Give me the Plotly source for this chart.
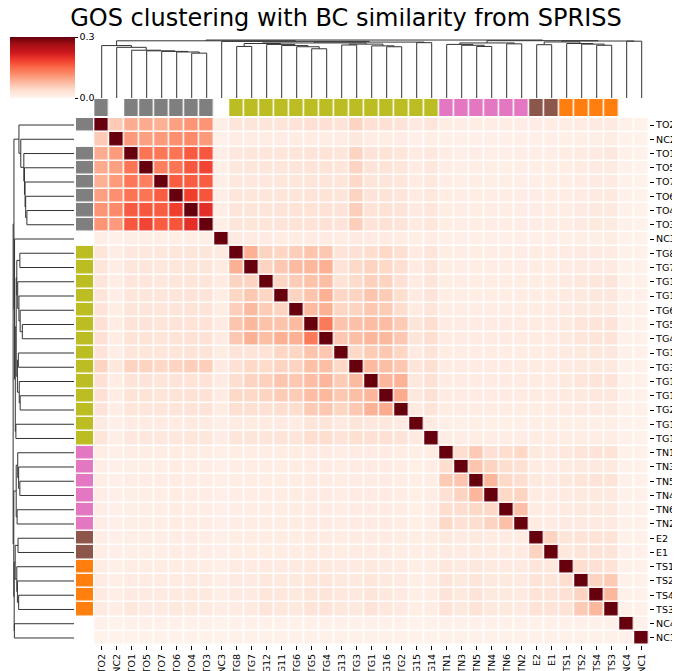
import numpy as np
import plotly.graph_objects as go

# ── Data ───────────────────────────────────────────────────────────────────

samples = ["TO2", "NC2", "TO1", "TO5", "TO7", "TO6", "TO4", "TO3", "NC3",
           "TG8", "TG7", "TG12", "TG11", "TG6", "TG5", "TG4", "TG13", "TG3",
           "TG1", "TG16", "TG2", "TG15", "TG14",
           "TN1", "TN3", "TN5", "TN4", "TN6", "TN2",
           "E2", "E1", "TS1", "TS2", "TS4", "TS3", "NC4", "NC1"]

groups = ["TO", "NC", "TO", "TO", "TO", "TO", "TO", "TO", "NC",
          "TG", "TG", "TG", "TG", "TG", "TG", "TG", "TG", "TG",
          "TG", "TG", "TG", "TG", "TG",
          "TN", "TN", "TN", "TN", "TN", "TN",
          "E", "E", "TS", "TS", "TS", "TS", "NC", "NC"]

group_colors = {"TO": "#7f7f7f", "TG": "#bcbd22", "TN": "#e377c2",
                "E": "#8c564b", "TS": "#ff7f0e"}

# BC similarity (x1000), lower triangle in clustered order; diagonal = 1000
sim_lower = [
    [],
    [60],
    [88, 105],
    [90, 100, 140],
    [85, 105, 138, 130],
    [100, 115, 140, 140, 160],
    [110, 120, 163, 165, 160, 185],
    [110, 105, 165, 180, 160, 167, 200],
    [12, 8, 12, 12, 12, 12, 13, 13],
    [28, 14, 25, 25, 24, 26, 28, 28, 20],
    [28, 14, 26, 26, 25, 27, 29, 29, 18, 85],
    [28, 15, 26, 26, 25, 27, 29, 29, 17, 50, 50],
    [28, 14, 27, 27, 26, 28, 30, 30, 16, 48, 62, 48],
    [30, 15, 28, 28, 27, 29, 31, 31, 16, 55, 75, 58, 50],
    [35, 16, 30, 30, 28, 30, 33, 33, 17, 65, 78, 68, 66, 75],
    [35, 16, 31, 31, 29, 31, 34, 34, 17, 62, 85, 72, 85, 85, 135],
    [30, 14, 27, 27, 26, 28, 30, 30, 16, 30, 30, 32, 48, 48, 66, 63],
    [50, 25, 50, 50, 45, 50, 55, 55, 20, 35, 45, 43, 50, 50, 70, 72, 45],
    [35, 15, 30, 30, 28, 30, 33, 33, 17, 40, 50, 53, 65, 63, 73, 80, 58, 75],
    [35, 16, 31, 31, 29, 31, 34, 34, 17, 45, 45, 50, 58, 58, 73, 77, 62, 72, 80],
    [30, 14, 27, 27, 26, 28, 30, 30, 16, 37, 37, 35, 40, 40, 60, 62, 48, 63, 83, 90],
    [20, 10, 18, 18, 17, 18, 20, 20, 12, 18, 18, 18, 20, 18, 28, 28, 20, 28, 25, 25, 20],
    [28, 12, 24, 24, 23, 25, 27, 27, 14, 28, 28, 28, 30, 28, 40, 40, 30, 38, 35, 35, 30, 20],
    [15, 10, 14, 14, 14, 15, 15, 15, 11, 15, 15, 16, 16, 16, 18, 18, 16, 18, 18, 18, 16, 12, 15],
    [14, 10, 13, 13, 13, 14, 14, 14, 10, 14, 14, 15, 15, 15, 17, 17, 15, 17, 17, 17, 15, 11, 14, 40],
    [15, 10, 14, 14, 14, 15, 15, 15, 11, 15, 15, 16, 16, 16, 18, 18, 16, 18, 18, 18, 16, 12, 15, 60, 65],
    [14, 10, 13, 13, 13, 14, 14, 14, 10, 14, 14, 15, 15, 15, 17, 17, 15, 17, 17, 17, 15, 11, 14, 35, 50, 80],
    [14, 10, 13, 13, 13, 14, 14, 14, 10, 14, 14, 15, 15, 15, 17, 17, 15, 17, 17, 17, 15, 11, 14, 40, 40, 45, 45],
    [14, 10, 13, 13, 13, 14, 14, 14, 10, 14, 14, 15, 15, 15, 17, 17, 15, 17, 17, 17, 15, 11, 14, 45, 35, 40, 50, 70],
    [14, 10, 13, 13, 13, 14, 14, 14, 10, 15, 15, 16, 16, 16, 18, 18, 16, 18, 18, 18, 16, 12, 15, 22, 18, 22, 18, 18, 18],
    [14, 10, 13, 13, 13, 14, 14, 14, 10, 15, 15, 16, 16, 16, 18, 18, 16, 18, 18, 18, 16, 12, 15, 20, 17, 20, 17, 17, 17, 50],
    [16, 11, 15, 15, 15, 16, 16, 16, 11, 18, 18, 20, 20, 19, 22, 22, 19, 20, 22, 20, 18, 12, 15, 25, 20, 25, 20, 20, 20, 28, 25],
    [18, 12, 18, 18, 17, 18, 19, 19, 12, 19, 20, 24, 22, 21, 26, 26, 22, 21, 26, 22, 20, 12, 15, 28, 22, 28, 22, 22, 20, 30, 28, 40],
    [20, 12, 20, 20, 19, 20, 21, 21, 13, 19, 20, 26, 24, 22, 28, 28, 24, 22, 28, 24, 20, 12, 15, 30, 22, 30, 22, 22, 20, 32, 30, 35, 50],
    [20, 15, 25, 20, 20, 22, 22, 20, 15, 18, 20, 28, 25, 22, 30, 30, 25, 22, 30, 25, 20, 12, 15, 33, 22, 33, 22, 22, 20, 33, 30, 33, 60, 78],
    [7, 6, 7, 7, 7, 7, 7, 7, 6, 7, 7, 7, 7, 7, 8, 8, 7, 7, 8, 7, 7, 6, 7, 7, 7, 7, 7, 7, 7, 7, 7, 8, 8, 8, 8],
    [6, 6, 6, 6, 6, 6, 6, 6, 6, 7, 7, 7, 7, 7, 7, 7, 7, 7, 7, 7, 7, 6, 6, 7, 7, 7, 7, 7, 7, 7, 7, 7, 7, 7, 7, 8],
]

# average-linkage merges (left, right, distance, new cluster name)
merges = [
    ("TO4", "TO3", 0.77, "o1"), ("TO6", "o1", 0.79, "o2"),
    ("TO7", "o2", 0.80, "o3"), ("TO5", "o3", 0.81, "o4"),
    ("TO1", "o4", 0.82, "o5"), ("NC2", "o5", 0.87, "o6"),
    ("TO2", "o6", 0.90, "TOc"),
    ("TG8", "TG7", 0.885, "g1"), ("TG5", "TG4", 0.845, "g2"),
    ("TG6", "g2", 0.88, "g3"), ("TG11", "g3", 0.90, "g4"),
    ("TG12", "g4", 0.92, "g5"), ("g1", "g5", 0.935, "g6"),
    ("TG13", "TG3", 0.91, "g7"), ("TG16", "TG2", 0.88, "g8"),
    ("TG1", "g8", 0.895, "g9"), ("g7", "g9", 0.925, "g10"),
    ("g6", "g10", 0.945, "g11"), ("TG15", "TG14", 0.95, "g12"),
    ("g11", "g12", 0.96, "TGc"),
    ("NC3", "TGc", 0.972, "a1"), ("TOc", "a1", 0.982, "L"),
    ("TN5", "TN4", 0.885, "n1"), ("TN3", "n1", 0.905, "n2"),
    ("TN1", "n2", 0.92, "n3"), ("TN6", "TN2", 0.93, "n4"),
    ("n3", "n4", 0.945, "TNc"),
    ("E2", "E1", 0.915, "e1"),
    ("TS4", "TS3", 0.905, "s1"), ("TS2", "s1", 0.925, "s2"),
    ("TS1", "s2", 0.935, "s3"),
    ("e1", "s3", 0.962, "ETS"), ("NC4", "NC1", 0.975, "NCc"),
    ("ETS", "NCc", 0.978, "b1"), ("TNc", "b1", 0.984, "R"),
    ("L", "R", 0.995, "root"),
]

# ── Build matrix / dendrogram paths ────────────────────────────────────────

n = len(samples)
assert all(len(r) == i for i, r in enumerate(sim_lower))
sim = np.eye(n)
for i, row in enumerate(sim_lower):
    for j, v in enumerate(row):
        sim[i, j] = sim[j, i] = v / 1000.0

pos = {s: (float(i), 0.0) for i, s in enumerate(samples)}
seg_p, seg_h = [], []
for a, b, h, name in merges:
    (xa, ha), (xb, hb) = pos[a], pos[b]
    seg_p += [xa, xa, xb, xb, None]
    seg_h += [ha, h, h, hb, None]
    pos[name] = ((xa + xb) / 2, h)

codes = list(group_colors)
grp_z = [codes.index(g) if g in group_colors else None for g in groups]
grp_scale = [[k / (len(codes) - 1), group_colors[c]] for k, c in enumerate(codes)]

reds = ["#fff5f0", "#fee0d2", "#fcbba1", "#fc9272", "#fb6a4a",
        "#ef3b2c", "#cb181d", "#a50f15", "#67000d"]
reds_scale = [[k / 8, c] for k, c in enumerate(reds)]

# page body has an 8px margin, so the figure is drawn 8px in from the corner
OFF = 8
W, H = 680 - OFF, 671 - OFF
px = lambda v: (v - OFF) / W
py = lambda v: 1 - (v - OFF) / H
FONT = "DejaVu Sans, sans-serif"
idx = list(range(n))

# ── Figure ─────────────────────────────────────────────────────────────────

fig = go.Figure()

fig.add_trace(go.Heatmap(
    z=sim, x=idx, y=idx, zmin=0, zmax=0.3, colorscale=reds_scale,
    xgap=1.5, ygap=1.5, hoverinfo="skip",
    colorbar=dict(
        x=px(10), xanchor="left", xpad=0,
        y=py(37), yanchor="top", ypad=0,
        len=61 / H, lenmode="fraction",
        thickness=65, thicknessmode="pixels",
        outlinewidth=0,
        tickvals=[0, 0.3], ticktext=["0.0", "0.3"],
        ticks="outside", ticklen=3, tickcolor="#000",
        tickfont=dict(size=9.5, family=FONT, color="#000"),
    ),
))

# column colour strip
fig.add_trace(go.Heatmap(
    z=[grp_z], x=idx, y=[0], xaxis="x", yaxis="y2",
    colorscale=grp_scale, zmin=0, zmax=len(codes) - 1,
    showscale=False, xgap=1.5, hoverinfo="skip",
))
# row colour strip
fig.add_trace(go.Heatmap(
    z=[[g] for g in grp_z], x=[0], y=idx, xaxis="x2", yaxis="y",
    colorscale=grp_scale, zmin=0, zmax=len(codes) - 1,
    showscale=False, ygap=1.5, hoverinfo="skip",
))

# dendrograms
fig.add_trace(go.Scatter(
    x=seg_p, y=seg_h, xaxis="x", yaxis="y3", mode="lines",
    line=dict(color="#333333", width=1), hoverinfo="skip", showlegend=False,
))
fig.add_trace(go.Scatter(
    x=seg_h, y=seg_p, xaxis="x3", yaxis="y", mode="lines",
    line=dict(color="#333333", width=1), hoverinfo="skip", showlegend=False,
))

hidden = dict(visible=False, showgrid=False, zeroline=False)
fig.update_layout(
    width=W, height=H,
    margin=dict(l=0, r=0, t=0, b=0),
    paper_bgcolor="white", plot_bgcolor="white",
    showlegend=False,
    font=dict(family=FONT, color="#000"),
    title=dict(
        text="GOS clustering with BC similarity from SPRISS",
        x=px(346), xanchor="center", y=py(18), yanchor="middle",
        font=dict(size=24, family=FONT, color="#000"),
    ),
    xaxis=dict(
        domain=[px(94.2), px(649.2)], range=[-0.5, n - 0.5], anchor="y",
        tickvals=idx, ticktext=samples, tickangle=-90,
        ticks="outside", ticklen=4, tickcolor="#000",
        tickfont=dict(size=9.5, family=FONT, color="#000"),
        showgrid=False, zeroline=False, showline=False, automargin=False,
    ),
    yaxis=dict(
        domain=[py(645.1), py(117.9)], range=[n - 0.5, -0.5], anchor="x",
        side="right",
        tickvals=idx, ticktext=samples,
        ticks="outside", ticklen=4, tickcolor="#000",
        tickfont=dict(size=9.5, family=FONT, color="#000"),
        showgrid=False, zeroline=False, showline=False, automargin=False,
    ),
    xaxis2=dict(domain=[px(76), px(93.3)], range=[-0.5, 0.5], anchor="y", **hidden),
    yaxis2=dict(domain=[py(116), py(99)], range=[0.5, -0.5], anchor="x", **hidden),
    xaxis3=dict(domain=[px(11), px(74)], range=[1.03, 0], anchor="y", **hidden),
    yaxis3=dict(domain=[py(98), py(38)], range=[0, 1.03], anchor="x", **hidden),
)

fig.write_html("out.html")
